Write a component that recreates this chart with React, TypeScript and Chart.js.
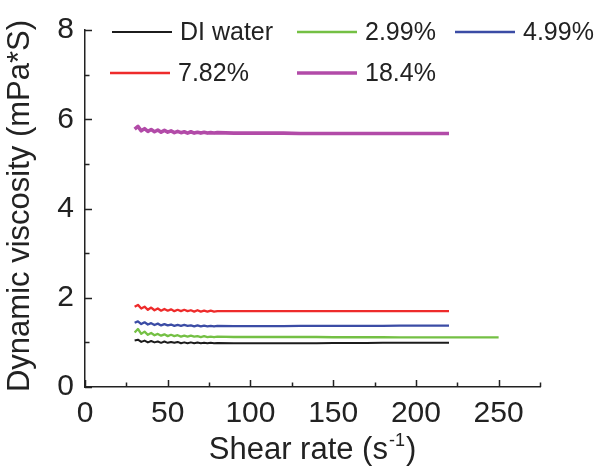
import React, { useEffect, useRef } from "react";
import { Chart, registerables } from "chart.js";

Chart.register(...registerables);

const FONT = "'Liberation Sans', Arial, Helvetica, sans-serif";

const seriesLabels = ["DI water", "2.99%", "4.99%", "7.82%", "18.4%"];
const seriesColors = ["#1c1c1c", "#74c044", "#3b4ca5", "#ee2b2b", "#b24ba8"];
const seriesWidths = [2, 2.3, 2.3, 2.3, 3.6];

const xTicks = [0, 50, 100, 150, 200, 250];
const yTicks = [0, 2, 4, 6, 8];

const shearRate = [
  30, 32, 34, 36, 38, 40, 42, 44, 46, 48, 50, 52, 54, 56, 58, 60, 62, 64, 66, 68,
  70, 72, 74, 76, 78, 80, 90, 100, 110, 120, 130, 140, 150, 160, 170, 180, 190, 200, 210, 220,
];
const shearRateLong = [
  30, 32, 34, 36, 38, 40, 42, 44, 46, 48, 50, 52, 54, 56, 58, 60, 62, 64, 66, 68,
  70, 72, 74, 76, 78, 80, 90, 100, 110, 120, 130, 140, 150, 160, 170, 180, 190, 200, 210, 220,
  230, 240, 250,
];

const diWater = [
  1.04, 1.06, 1.01, 1.04, 1.0, 1.03, 1.0, 1.02, 0.99, 1.02, 0.99, 1.01, 0.99, 1.01, 0.98, 1.0,
  0.98, 1.0, 0.98, 0.995, 0.98, 0.99, 0.98, 0.99, 0.98, 0.985, 0.98, 0.98, 0.98, 0.98, 0.98,
  0.98, 0.985, 0.985, 0.985, 0.99, 0.99, 0.99, 0.99, 0.99,
];
const conc299 = [
  1.22, 1.3, 1.19, 1.24, 1.17, 1.21, 1.16, 1.19, 1.15, 1.18, 1.14, 1.17, 1.14, 1.16, 1.13, 1.15,
  1.13, 1.15, 1.13, 1.14, 1.12, 1.14, 1.12, 1.13, 1.12, 1.13, 1.12, 1.12, 1.12, 1.12, 1.12, 1.12,
  1.115, 1.115, 1.115, 1.115, 1.11, 1.11, 1.11, 1.11, 1.11, 1.11, 1.11,
];
const conc499 = [
  1.44, 1.47, 1.41, 1.45, 1.4, 1.43, 1.39, 1.42, 1.38, 1.41, 1.38, 1.4, 1.37, 1.39, 1.37, 1.39,
  1.37, 1.38, 1.36, 1.38, 1.36, 1.375, 1.36, 1.37, 1.36, 1.37, 1.365, 1.365, 1.365, 1.365, 1.37,
  1.37, 1.37, 1.37, 1.37, 1.37, 1.375, 1.375, 1.375, 1.375,
];
const conc782 = [
  1.8, 1.84, 1.76, 1.8, 1.73, 1.78, 1.72, 1.76, 1.71, 1.75, 1.71, 1.74, 1.7, 1.73, 1.7, 1.73,
  1.7, 1.72, 1.69, 1.72, 1.69, 1.71, 1.69, 1.71, 1.69, 1.7, 1.7, 1.7, 1.7, 1.7, 1.7, 1.7, 1.7,
  1.7, 1.7, 1.7, 1.7, 1.7, 1.7, 1.7,
];
const conc184 = [
  5.78, 5.84, 5.74, 5.79, 5.73, 5.77, 5.72, 5.76, 5.71, 5.75, 5.71, 5.74, 5.7, 5.73, 5.7, 5.72,
  5.69, 5.72, 5.69, 5.71, 5.69, 5.71, 5.69, 5.7, 5.69, 5.7, 5.69, 5.69, 5.69, 5.69, 5.68, 5.68,
  5.68, 5.68, 5.68, 5.68, 5.68, 5.68, 5.68, 5.68,
];

const seriesValues = [diWater, conc299, conc499, conc782, conc184];
const seriesX = [shearRate, shearRateLong, shearRate, shearRate, shearRate];

const yTitle = "Dynamic viscosity (mPa*S)";
const xTitleMain = "Shear rate (s";
const xTitleSup = "-1";
const xTitleEnd = ")";

const AXIS_COLOR = "#222222";

const decorPlugin = {
  id: "decor",
  afterDraw(chart: any) {
    const ctx: CanvasRenderingContext2D = chart.ctx;
    const xs = chart.scales.x;
    const ys = chart.scales.y;
    const area = chart.chartArea;
    ctx.save();
    // tick marks (inward)
    ctx.strokeStyle = AXIS_COLOR;
    ctx.lineWidth = 1.5;
    ctx.beginPath();
    for (let v = 0; v <= 275; v += 25) {
      const px = Math.round(xs.getPixelForValue(v)) + 0.5;
      const len = v % 50 === 0 ? 7 : 4.5;
      ctx.moveTo(px, area.bottom);
      ctx.lineTo(px, area.bottom - len);
    }
    for (let v = 0; v <= 8; v += 1) {
      const py = Math.round(ys.getPixelForValue(v)) + 0.5;
      const len = v % 2 === 0 ? 7 : 4.5;
      ctx.moveTo(area.left, py);
      ctx.lineTo(area.left + len, py);
    }
    ctx.stroke();

    // axis titles
    ctx.fillStyle = AXIS_COLOR;
    ctx.font = `31px ${FONT}`;
    ctx.textBaseline = "alphabetic";
    ctx.save();
    ctx.translate(29, 206);
    ctx.rotate(-Math.PI / 2);
    ctx.textAlign = "center";
    ctx.fillText(yTitle, 0, 0);
    ctx.restore();

    ctx.textAlign = "left";
    ctx.font = `31px ${FONT}`;
    const wMain = ctx.measureText(xTitleMain).width;
    const wEnd = ctx.measureText(xTitleEnd).width;
    ctx.font = `18px ${FONT}`;
    const wSup = ctx.measureText(xTitleSup).width;
    const total = wMain + wSup + 2 + wEnd;
    const cx = (area.left + area.right) / 2;
    let x0 = cx - total / 2;
    const base = 459;
    ctx.font = `31px ${FONT}`;
    ctx.fillText(xTitleMain, x0, base);
    x0 += wMain + 1;
    ctx.font = `18px ${FONT}`;
    ctx.fillText(xTitleSup, x0, base - 13);
    x0 += wSup + 1;
    ctx.font = `31px ${FONT}`;
    ctx.fillText(xTitleEnd, x0, base);

    // legend
    const slots = [
      [112, 32],
      [297, 32],
      [455, 32],
      [110, 73],
      [297, 73],
    ];
    ctx.font = `25px ${FONT}`;
    ctx.textBaseline = "middle";
    chart.data.datasets.forEach((ds: any, i: number) => {
      const [lx, ly] = slots[i];
      ctx.strokeStyle = ds.borderColor;
      ctx.lineWidth = ds.borderWidth;
      ctx.beginPath();
      ctx.moveTo(lx, ly);
      ctx.lineTo(lx + 60, ly);
      ctx.stroke();
      ctx.fillStyle = AXIS_COLOR;
      ctx.fillText(ds.label, lx + 68, ly + 1);
    });
    ctx.restore();
  },
};

export default function App() {
  const ref = useRef<HTMLCanvasElement>(null);
  useEffect(() => {
    const canvas = ref.current;
    if (!canvas) return;
    const datasets = seriesLabels.map((label, i) => ({
      label,
      data: seriesValues[i].map((y, j) => ({ x: seriesX[i][j], y })),
      borderColor: seriesColors[i],
      backgroundColor: seriesColors[i],
      borderWidth: seriesWidths[i],
      pointRadius: 0,
      tension: 0,
      fill: false,
      borderJoinStyle: "round" as const,
    }));
    const chart = new Chart(canvas, {
      type: "line",
      data: { datasets },
      options: {
        responsive: false,
        animation: false,
        events: [],
        layout: { padding: { top: 30, right: 60, left: 0, bottom: 0 } },
        plugins: { legend: { display: false }, tooltip: { enabled: false } },
        scales: {
          x: {
            type: "linear",
            min: 0,
            max: 275,
            grid: { display: false, drawTicks: false },
            border: { display: true, color: AXIS_COLOR, width: 1.5 },
            ticks: {
              font: { family: FONT, size: 30 },
              color: AXIS_COLOR,
              padding: 9,
              maxRotation: 0,
              autoSkip: false,
            },
            afterBuildTicks: (s: any) => {
              s.ticks = xTicks.map((v) => ({ value: v }));
            },
            afterFit: (s: any) => {
              s.height = 83;
            },
          },
          y: {
            type: "linear",
            min: 0,
            max: 8,
            grid: { display: false, drawTicks: false },
            border: { display: true, color: AXIS_COLOR, width: 1.5 },
            ticks: {
              font: { family: FONT, size: 30 },
              color: AXIS_COLOR,
              padding: 11,
              autoSkip: false,
            },
            afterBuildTicks: (s: any) => {
              s.ticks = yTicks.map((v) => ({ value: v }));
            },
            afterFit: (s: any) => {
              s.width = 85;
            },
          },
        },
      },
      plugins: [decorPlugin],
    });
    return () => chart.destroy();
  }, []);
  return (
    <div style={{ position: "fixed", left: 0, top: 0, width: 600, height: 470, background: "#ffffff" }}>
      <canvas ref={ref} width={600} height={470} style={{ display: "block" }} />
    </div>
  );
}
